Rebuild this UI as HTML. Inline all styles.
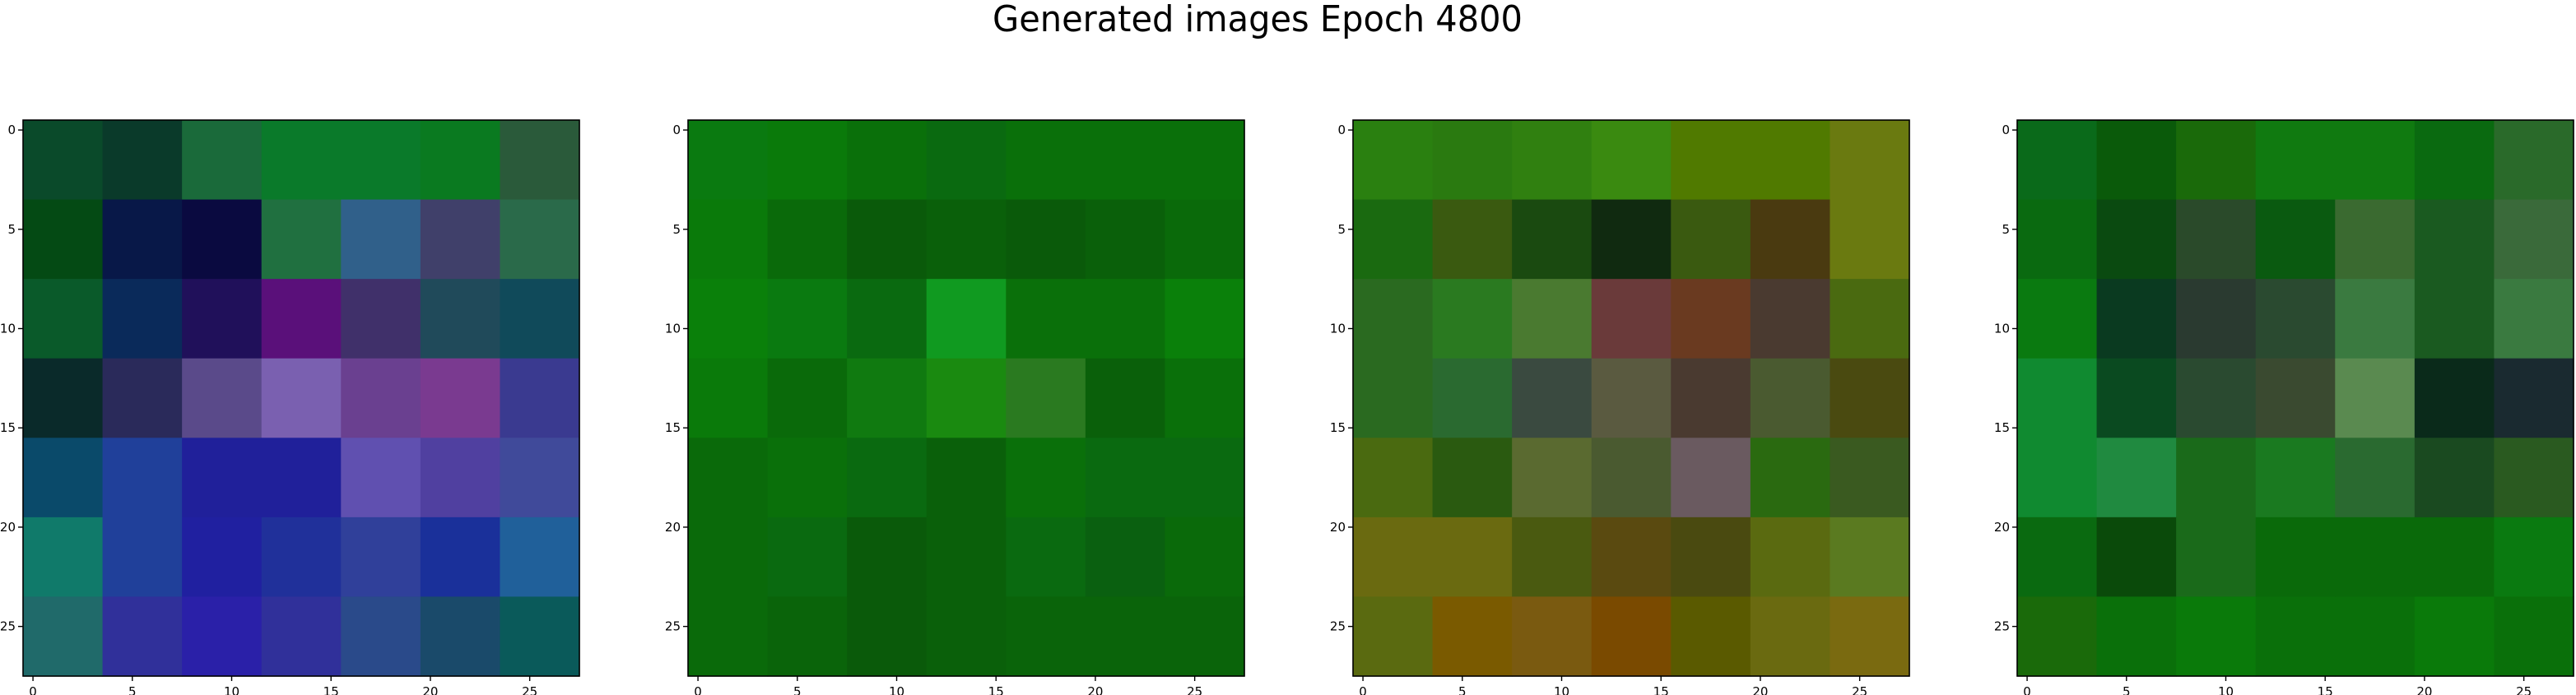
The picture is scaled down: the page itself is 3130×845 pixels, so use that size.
<!DOCTYPE html>
<html><head><meta charset="utf-8"><style>
html,body{margin:0;padding:0;background:#fff;}
svg{display:block;font-family:"DejaVu Sans","Liberation Sans",sans-serif;}
</style></head><body>
<svg id="fig" width="3130" height="845" viewBox="0 0 3130 845" xmlns="http://www.w3.org/2000/svg">
<rect width="3130" height="845" fill="#fff"/>
<text x="1206" y="38" font-size="44" textLength="644" lengthAdjust="spacingAndGlyphs" fill="#000">Generated images Epoch 4800</text>
</svg>
<script>
const tickValues = [0,5,10,15,20,25];
const gridSize = 28;
const panel1 = [
["#0a4a2a","#0a3a2a","#1a6a3a","#0a7a2a","#0a7a2a","#0a7a20","#2a5a3a"],
["#044a14","#081848","#0a0a40","#207040","#30608a","#40406a","#2a6a4a"],
["#0a5a2a","#0a2a5a","#20105a","#5a107a","#40306a","#204a5a","#104a5a"],
["#0a2a2a","#2a2a5a","#5a4a8a","#7a60b0","#6a4090","#7a3a90","#3a3a90"],
["#0a4a6a","#20409a","#20209a","#20209a","#6050b0","#5040a0","#404a9a"],
["#107a6a","#20409a","#2020a0","#20309a","#30409a","#1a309a","#20609a"],
["#206a6a","#30309a","#2a20a8","#30309a","#2a4a8a","#1a4a6a","#0a5a5a"]];
const panel2 = [
["#0a7a10","#0a7a0a","#0a700a","#0a6a10","#0a700a","#0a700a","#0a700a"],
["#0a7a0a","#0a6a0a","#0a5a0a","#0a600a","#0a5a0a","#0a600a","#0a6a0a"],
["#0a800a","#0a7a10","#0a6a10","#109a20","#0a700a","#0a700a","#0a800a"],
["#0a7a0a","#0a6a0a","#107a10","#1a8a10","#2a7a20","#0a600a","#0a700a"],
["#0a6a0a","#0a700a","#0a6a10","#0a600a","#0a700a","#0a6a10","#0a6a10"],
["#0a6a0a","#0a6a10","#0a5a0a","#0a600a","#0a6a10","#0a6010","#0a6a0a"],
["#0a6a0a","#0a640a","#0a5a0a","#0a600a","#0a640a","#0a640a","#0a640a"]];
const panel3 = [
["#2a8010","#2a7a10","#308010","#3a8a10","#507a00","#507a00","#6a7a10"],
["#1a6a10","#3a5a10","#1a4a10","#102a10","#3a5a10","#4a3a10","#6a7a10"],
["#2a6a20","#2a7a20","#4a7a30","#6a3a3a","#6a3a20","#4a3a30","#4a6a10"],
["#2a6a20","#2a6a30","#3a4a40","#5a5a40","#4a3a30","#4a5a30","#4a4a10"],
["#4a6a10","#2a5a10","#5a6a30","#4a5a30","#6a5a60","#2a6a10","#3a5a20"],
["#6a6a10","#6a6a10","#4a5a10","#5a4a10","#4a4a10","#5a6a10","#5a7a20"],
["#5a6a10","#7a5a00","#7a5a10","#7a4a00","#5a5a00","#6a6a10","#7a6a10"]];
const panel4 = [
["#0a6a1a","#0a5a0a","#1a6a0a","#107a10","#107a10","#0a6a10","#2a6a2a"],
["#0a6a10","#0a4a10","#2a4a2a","#0a5a10","#3a6a30","#1a5a20","#3a6a3a"],
["#0a7a10","#0a3a20","#2a3a30","#2a4a30","#3a7a40","#1a5a20","#3a7a40"],
["#108a30","#0a4a20","#2a4a30","#3a4a30","#5a8a50","#0a2a1a","#1a2a30"],
["#108a30","#208a40","#1a6a1a","#1a7a20","#2a6a30","#1a4a20","#2a5a20"],
["#0a6a10","#0a4a0a","#1a6a1a","#0a6a0a","#0a6a0a","#0a6a0a","#0a7a10"],
["#1a6a0a","#0a700a","#0a7a0a","#0a700a","#0a700a","#0a7a0a","#0a700a"]];
const panels = [panel1, panel2, panel3, panel4];

const NS = "http://www.w3.org/2000/svg";
const svg = document.getElementById('fig');
const lefts = [28, 836, 1644, 2451], top0 = 146, size = 676;
function mk(tag, attrs, parent){const e=document.createElementNS(NS,tag);for(const k in attrs)e.setAttribute(k,attrs[k]);parent.appendChild(e);return e;}
panels.forEach((grid, p) => {
  const L = lefts[p];
  const cell = size / gridSize;
  const sx = v => L + (v + 0.5) * cell;
  const sy = v => top0 + (v + 0.5) * cell;
  const g = mk('g', {}, svg);
  
  
  const bs = gridSize / grid.length;
  grid.forEach((row, r) => row.forEach((c, k) => {
    const rc = mk('rect', {x: L + k*bs*cell, y: top0 + r*bs*cell, width: bs*cell+0.6, height: bs*cell+0.6, fill: c}, g);
    
    
  }));
  const fr = mk('rect', {x: L, y: top0, width: size, height: size, fill: 'none', stroke: '#000', 'stroke-width': 1.6}, g);
  
  
  tickValues.forEach(t => {
    const x = sx(t), y = sy(t);
    mk('line', {x1: x, x2: x, y1: top0+size, y2: top0+size+6, stroke: '#000', 'stroke-width': 1.4}, g);
    const xl = mk('text', {x: x, y: top0+size+24, 'font-size': 15, 'text-anchor': 'middle', fill: '#000'}, g);
    xl.textContent = t;
    
    
    mk('line', {x1: L-6, x2: L, y1: y, y2: y, stroke: '#000', 'stroke-width': 1.4}, g);
    const yl = mk('text', {x: L-9, y: y+5, 'font-size': 15, 'text-anchor': 'end', fill: '#000'}, g);
    yl.textContent = t;
    
    
  });
});
</script>
</body></html>
